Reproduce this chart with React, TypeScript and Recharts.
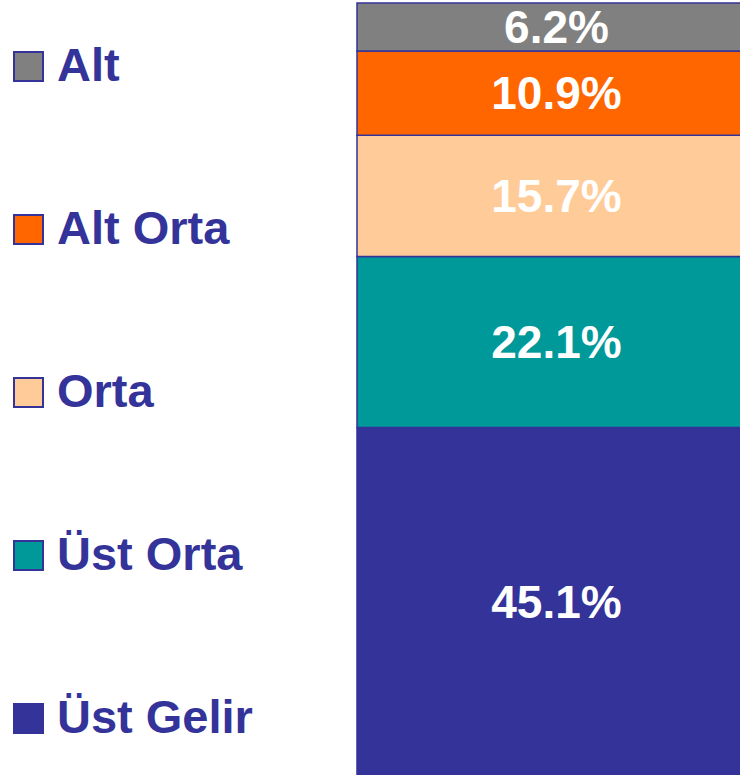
import React from 'react';
import { BarChart, Bar, XAxis, YAxis, Legend, LabelList } from 'recharts';

// stacked from bottom to top
const seriesKeys = ['ustGelir', 'ustOrta', 'orta', 'altOrta', 'alt'];
const seriesNames = ['Üst Gelir', 'Üst Orta', 'Orta', 'Alt Orta', 'Alt'];
const seriesValues = [45.1, 22.1, 15.7, 10.9, 6.2];
const seriesColors = ['#333399', '#009999', '#FFCC99', '#FF6600', '#808080'];

const category = 'Gelir';

const data = [
  seriesKeys.reduce(
    (row, key, i) => ({ ...row, [key]: seriesValues[i] }),
    { name: category } as Record<string, string | number>
  ),
];

const FONT = 'Arial, "Liberation Sans", Helvetica, sans-serif';
const BORDER = '#333399';

const LegendBlock = () => {
  // legend reads top to bottom, opposite of stacking order
  const items = seriesNames.map((n, i) => ({ name: n, color: seriesColors[i] })).reverse();
  return (
    <div style={{ position: 'relative', width: 340, height: 775 }}>
      {items.map((it, i) => (
        <div
          key={it.name}
          style={{
            position: 'absolute',
            left: 13,
            top: 64 + i * 163 - 30,
            height: 60,
            display: 'flex',
            alignItems: 'center',
            fontFamily: FONT,
            fontWeight: 'bold',
            fontSize: 47,
            color: '#333399',
            whiteSpace: 'nowrap',
          }}
        >
          <span
            style={{
              display: 'inline-block',
              width: 27,
              height: 27,
              background: it.color,
              border: `2px solid ${BORDER}`,
              marginRight: 13,
              marginTop: 4,
            }}
          />
          <span>{it.name}</span>
        </div>
      ))}
    </div>
  );
};

export default function App() {
  return (
    <div style={{ position: 'absolute', left: 0, top: 0, width: 740, height: 775, overflow: 'hidden', background: '#fff' }}>
      <BarChart
        width={760}
        height={776}
        data={data}
        margin={{ top: 3, right: 4, bottom: 0, left: 357 }}
        barCategoryGap={0}
      >
        <XAxis dataKey="name" hide />
        <YAxis hide domain={[0, 100]} />
        <Legend
          layout="vertical"
          align="center"
          verticalAlign="middle"
          wrapperStyle={{ left: 0, top: 0, width: 340, height: 775 }}
          content={() => <LegendBlock />}
        />
        {seriesKeys.map((key, i) => (
          <Bar
            key={key}
            dataKey={key}
            name={seriesNames[i]}
            stackId="a"
            fill={seriesColors[i]}
            stroke={BORDER}
            strokeWidth={1.5}
            isAnimationActive={false}
          >
            <LabelList
              dataKey={key}
              position="center"
              formatter={(v: number) => `${v.toFixed(1)}%`}
              fill="#ffffff"
              style={{ fontFamily: FONT, fontWeight: 'bold', fontSize: 46 }}
            />
          </Bar>
        ))}
      </BarChart>
    </div>
  );
}
